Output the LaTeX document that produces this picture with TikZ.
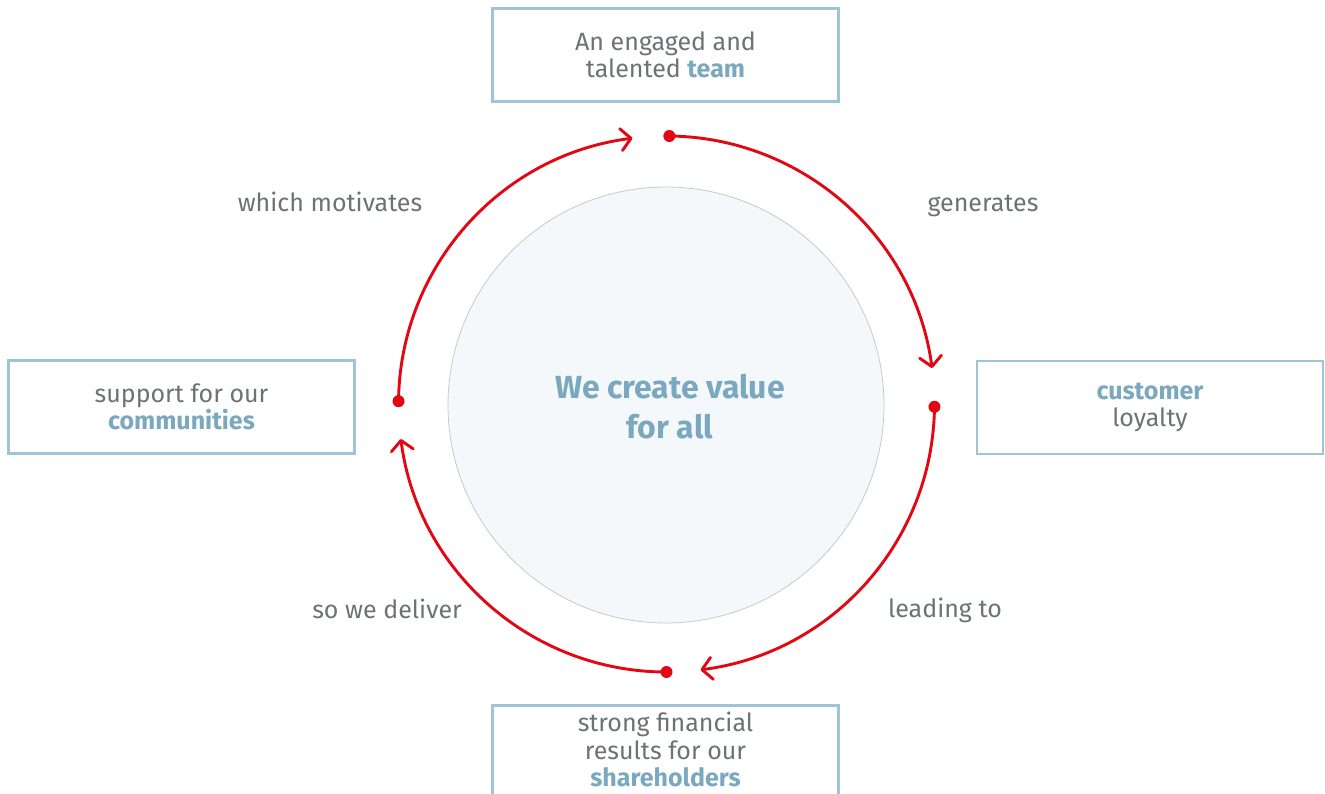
\documentclass[tikz,border=0pt]{standalone}
\usepackage{fontspec}
\setmainfont{Fira Sans}
\usetikzlibrary{arrows.meta}
\definecolor{txtgray}{HTML}{6B7373}
\definecolor{txtblue}{HTML}{7AA8BF}
\definecolor{boxblue}{HTML}{9EC4D6}
\definecolor{cyclered}{HTML}{E30613}
\definecolor{corefill}{HTML}{F5F8FB}
\definecolor{coreline}{HTML}{C5CACE}
\newcommand{\hl}[1]{\textbf{\color{txtblue}#1}}
\tikzset{
  msgbox/.style={draw=boxblue, line width=2.5pt, fill=white, minimum width=346pt, minimum height=93pt,
    inner sep=0pt, align=center, text=txtgray, font=\fontsize{25}{27.5}\selectfont},
  lbl/.style={text=txtgray, font=\fontsize{25}{27.5}\selectfont, anchor=base, inner sep=0pt},
  cyc/.style={draw=cyclered, line width=2.9pt, line cap=round, -{Straight Barb[length=10pt,width=22pt,line width=2.9pt,round]}},
  dotmark/.style={circle, fill=cyclered, inner sep=0pt, minimum size=12pt},
}
\begin{document}
\begin{tikzpicture}[x=1pt,y=-1pt]
\useasboundingbox[fill=white] (0,0) rectangle (1325,794);
\coordinate (C) at (666.5,404);
% core circle
\node[circle, draw=coreline, line width=0.8pt, fill=corefill, minimum size=436pt, inner sep=0pt] (core) at (666,405) {};
\node[text=txtblue, font=\fontsize{32}{40}\selectfont\bfseries, align=center] (value) at (670,407) {We create value\\for all};
% boxes
\node[msgbox] (team) at (665.5,55) {An engaged and\\talented \hl{team}};
\node[msgbox] (comm) at (181.5,407) {support for our\\\hl{communities}};
\node[msgbox] (cust) at (1150,407.5) {\hl{customer}\\loyalty};
\node[msgbox, minimum height=110pt, anchor=north, text depth=0pt] (share) at (665.5,704) {};
\node[align=center, text=txtgray, font=\fontsize{25}{27.5}\selectfont, anchor=north, inner sep=0pt] (sharetxt) at (665.5,712) {strong financial\\results for our\\\hl{shareholders}};
% dots and ends
\coordinate (dT) at ([shift={(-89.4:268)}]C);
\coordinate (dR) at ([shift={(0.6:268)}]C);
\coordinate (dB) at ([shift={(90:268)}]C);
\coordinate (dL) at ([shift={(180.6:268)}]C);
\draw[cyc] (dT) arc[start angle=-89.4, end angle=-7.7, radius=268] coordinate (eR);
\draw[cyc] (dR) arc[start angle=0.6, end angle=82.7, radius=268] coordinate (eB);
\draw[cyc] (dB) arc[start angle=90, end angle=172.5, radius=268] coordinate (eL);
\draw[cyc] (dL) arc[start angle=180.6, end angle=262.7, radius=268] coordinate (eT);
\node[dotmark] (pT) at (dT) {};
\node[dotmark] (pR) at (dR) {};
\node[dotmark] (pB) at (dB) {};
\node[dotmark] (pL) at (dL) {};
% labels
\node[lbl] (l1) at (330,212) {which motivates};
\node[lbl] (l2) at (983,212) {generates};
\node[lbl] (l3) at (387,618) {so we deliver};
\node[lbl] (l4) at (945,617) {leading to};
\end{tikzpicture}
\end{document}
